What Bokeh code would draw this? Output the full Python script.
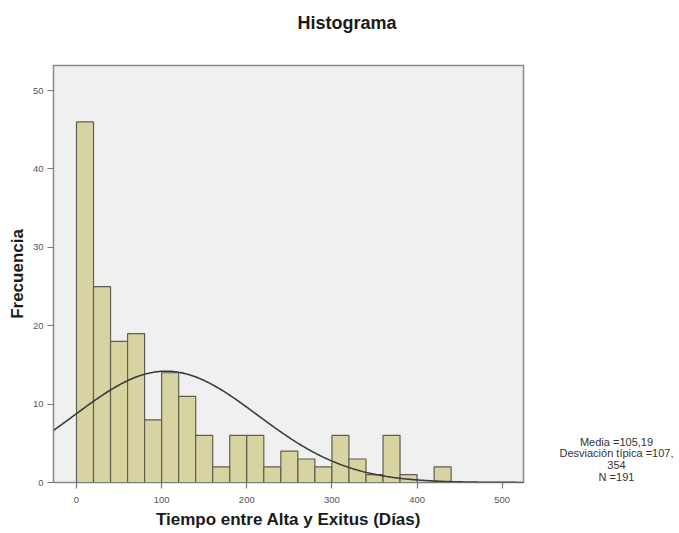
import numpy as np
from bokeh.plotting import figure
from bokeh.layouts import row
from bokeh.models import Range1d, FixedTicker, Title
from bokeh.core.properties import value
from bokeh.embed import file_html
from bokeh.resources import INLINE

# Histogram data (bins of 20 days)
bin_left = [0, 20, 40, 60, 80, 100, 120, 140, 160, 180, 200, 220, 240, 260, 280,
            300, 320, 340, 360, 380, 400, 420]
counts = [46, 25, 18, 19, 8, 14, 11, 6, 2, 6, 6, 2, 4, 3, 2, 6, 3, 1, 6, 1, 0, 2]
bin_width = 20

mean_val = 105.19
sd_val = 107.354
n_val = 191

stats_lines = ["Media =105,19", "Desviación típica =107,", "354", "N =191"]
x_ticks = [0, 100, 200, 300, 400, 500]
y_ticks = [0, 10, 20, 30, 40, 50]

FONT = "Liberation Sans"

p = figure(width=531, height=533, output_backend="svg", toolbar_location=None,
           x_range=Range1d(-27, 525), y_range=Range1d(0, 53.2),
           min_border_left=53, min_border_right=8, min_border_top=65,
           min_border_bottom=51)

p.background_fill_color = "#f0f0f0"
p.border_fill_color = "white"
p.outline_line_color = "#8a8a8a"
p.outline_line_width = 1.5
p.grid.visible = False

lefts = np.array(bin_left, dtype=float)
p.quad(left=lefts, right=lefts + bin_width, bottom=0, top=counts,
       fill_color="#d8d4a2", line_color="#5e5e52", line_width=1.2)

xs = np.linspace(-27, 525, 400)
ys = n_val * bin_width * np.exp(-0.5 * ((xs - mean_val) / sd_val) ** 2) / (sd_val * np.sqrt(2 * np.pi))
p.line(xs, ys, line_color="#3c3c3c", line_width=1.6)

for ax in (p.xaxis[0], p.yaxis[0]):
    ax.axis_line_color = None
    ax.major_tick_line_color = "#777777"
    ax.major_tick_line_width = 1.2
    ax.major_tick_out = 6
    ax.major_tick_in = 0
    ax.minor_tick_line_color = None
    ax.major_label_text_font = FONT
    ax.major_label_text_font_size = "9.5px"
    ax.major_label_text_color = "#555555"
    ax.axis_label_text_font = FONT
    ax.axis_label_text_font_style = "bold"
    ax.axis_label_text_font_size = "17px"
    ax.axis_label_text_color = "#1a1a1a"

p.xaxis[0].ticker = FixedTicker(ticks=x_ticks)
p.yaxis[0].ticker = FixedTicker(ticks=y_ticks)
p.xaxis[0].axis_label = "Tiempo entre Alta y Exitus (Días)"
p.yaxis[0].axis_label = "Frecuencia"
p.xaxis[0].major_label_standoff = 8
p.xaxis[0].axis_label_standoff = 4
p.yaxis[0].major_label_standoff = 4
p.yaxis[0].axis_label_standoff = 3

# main title (outermost)
p.title.text = "Histograma"
p.title.align = "left"
p.title.offset = 244
p.title.standoff = 0
p.title.text_font = FONT
p.title.text_font_size = "18px"
p.title.text_font_style = "bold"
p.title.text_color = "#1a1a1a"

# invisible spacer between the title and the frame
spacer = Title(text=" ", text_font_size="2px", standoff=29)
p.add_layout(spacer, "above")

# side panel with the statistics text, sharing the main plot's vertical scale
p2 = figure(width=148, height=533, output_backend="svg", toolbar_location=None,
            x_range=Range1d(0, 148), y_range=p.y_range,
            x_axis_type=None, y_axis_type=None,
            min_border_left=0, min_border_right=0, min_border_top=65,
            min_border_bottom=51)
p2.outline_line_color = None
p2.grid.visible = False
p2.background_fill_color = "white"
p2.border_fill_color = "white"
stat_x = [85, 85, 85, 85]
stat_y = [5.23, 3.7, 2.17, 0.64]
p2.text(x=stat_x, y=stat_y, text=stats_lines, text_align="center", text_baseline="middle",
        text_font=value(FONT), text_font_size="11px", text_color="#333333")

layout = row(p, p2)
open("out.html", "w").write(file_html(layout, INLINE))
